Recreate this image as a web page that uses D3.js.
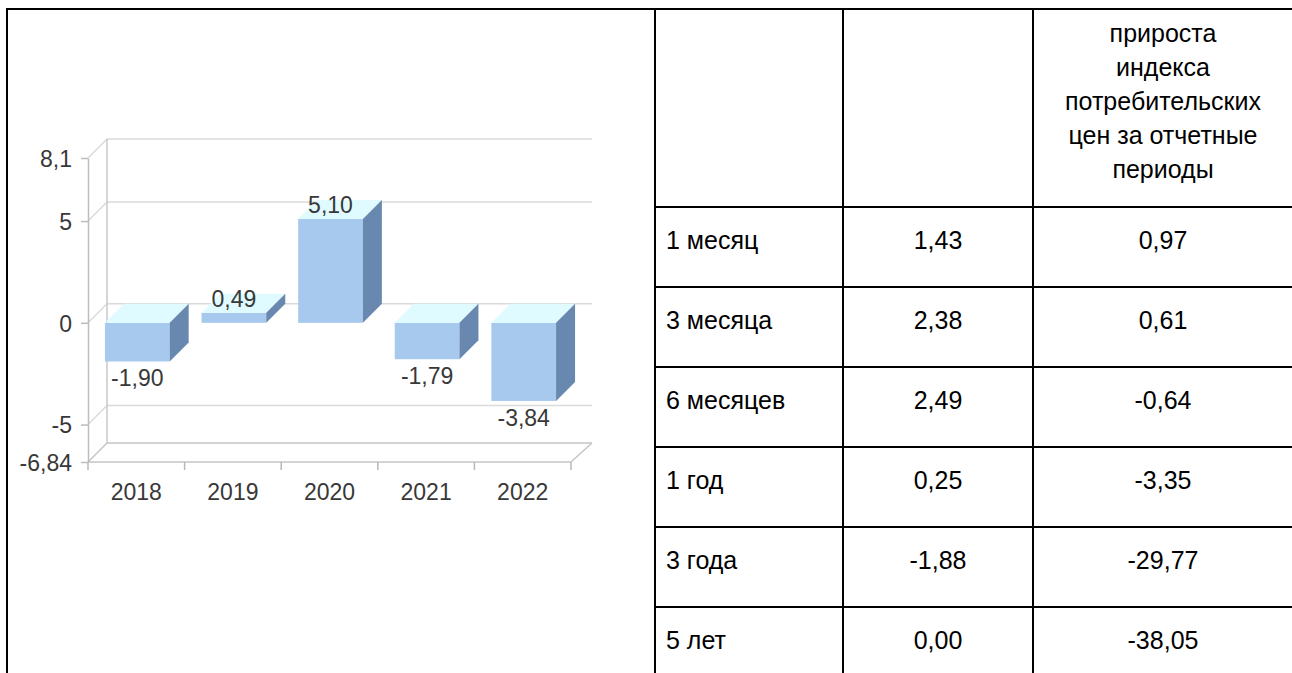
<!DOCTYPE html>
<html>
<head>
<meta charset="utf-8">
<script src="https://cdn.jsdelivr.net/npm/d3@7"></script>
<style>
  body { margin: 0; background: #fff; }
  svg { display: block; font-family: "Liberation Sans", Arial, sans-serif; }
</style>
</head>
<body>
<div id="chart"></div>
<script>
// chart data
const years = ["2018", "2019", "2020", "2021", "2022"];
const values = [-1.90, 0.49, 5.10, -1.79, -3.84];
const yTicks = [-6.84, -5, 0, 5, 8.1];

// table data
const headerLines = ["прироста", "индекса", "потребительских", "цен за отчетные", "периоды"];
const periods = ["1 месяц", "3 месяца", "6 месяцев", "1 год", "3 года", "5 лет"];
const col2 = [1.43, 2.38, 2.49, 0.25, -1.88, 0.00];
const col3 = [0.97, 0.61, -0.64, -3.35, -29.77, -38.05];

const W = 1292, H = 673;
const depth = 19;

const ru = d3.formatLocale({decimal: ",", thousands: " ", grouping: [3], currency: ["", ""], minus: "-"});
const f2 = ru.format(".2f");
const tickFmt = d => String(d).replace(".", ",");

const svg = d3.select("#chart")
  .append("svg")
  .attr("width", W)
  .attr("height", H);

// ---- 3D bar chart ----
const x = d3.scaleBand()
  .domain(years)
  .range([88, 571]);

const y = d3.scaleLinear()
  .domain([-6.84, 8.1])
  .range([462, 158]);

const chart = svg.append("g");

// back wall gridlines
chart.selectAll(".grid")
  .data(yTicks)
  .join("line")
  .attr("x1", x.range()[0] + depth)
  .attr("x2", x.range()[1] + depth + 2)
  .attr("y1", d => y(d) - depth)
  .attr("y2", d => y(d) - depth)
  .attr("stroke", d => d === yTicks[0] ? "#c4c4c4" : "#dadada")
  .attr("stroke-width", 1.5);

// side wall diagonals
chart.selectAll(".diag")
  .data(yTicks)
  .join("line")
  .attr("x1", x.range()[0])
  .attr("x2", x.range()[0] + depth)
  .attr("y1", d => y(d))
  .attr("y2", d => y(d) - depth)
  .attr("stroke", d => d === yTicks[0] ? "#c4c4c4" : "#dadada")
  .attr("stroke-width", 1.5);

// back wall left edge
chart.append("line")
  .attr("x1", x.range()[0] + depth).attr("x2", x.range()[0] + depth)
  .attr("y1", y(8.1) - depth).attr("y2", y(-6.84) - depth)
  .attr("stroke", "#c8c8c8").attr("stroke-width", 1.5);

// floor front edge + right diagonal
chart.append("line")
  .attr("x1", x.range()[0]).attr("x2", x.range()[1])
  .attr("y1", y(-6.84)).attr("y2", y(-6.84))
  .attr("stroke", "#c4c4c4").attr("stroke-width", 1.5);
chart.append("line")
  .attr("x1", x.range()[1]).attr("x2", x.range()[1] + depth + 2)
  .attr("y1", y(-6.84)).attr("y2", y(-6.84) - depth)
  .attr("stroke", "#c4c4c4").attr("stroke-width", 1.5);

// category boundary ticks
const bounds = years.map(d => x(d)).concat([x.range()[1]]);
chart.selectAll(".xtick")
  .data(bounds)
  .join("line")
  .attr("x1", d => d).attr("x2", d => d)
  .attr("y1", y(-6.84)).attr("y2", y(-6.84) + 8)
  .attr("stroke", "#b8b8b8").attr("stroke-width", 1.5);

// bars
const barW = x.bandwidth() * 0.67;
const bars = chart.selectAll(".bar")
  .data(years.map((yr, i) => ({year: yr, value: values[i]})))
  .join("g");

const bx = d => x(d.year) + (x.bandwidth() - barW) / 2 + 1;
const barTop = d => y(Math.max(0, d.value));
const barBot = d => y(Math.min(0, d.value));

bars.append("rect")
  .attr("x", bx)
  .attr("y", barTop)
  .attr("width", barW)
  .attr("height", d => barBot(d) - barTop(d))
  .attr("fill", "#a7c9ee");

bars.append("path")
  .attr("fill", "#dffbff")
  .attr("d", d => {
    const x0 = bx(d), t = barTop(d);
    return `M${x0},${t}L${x0 + depth},${t - depth}L${x0 + barW + depth},${t - depth}L${x0 + barW},${t}Z`;
  });

bars.append("path")
  .attr("fill", "#6888b0")
  .attr("d", d => {
    const x1 = bx(d) + barW, t = barTop(d), b = barBot(d);
    return `M${x1},${t}L${x1 + depth},${t - depth}L${x1 + depth},${b - depth}L${x1},${b}Z`;
  });

// value labels
bars.append("text")
  .attr("x", d => bx(d) + barW / 2)
  .attr("y", d => d.value >= 0 ? barTop(d) - 6 : barBot(d) + 25)
  .attr("text-anchor", "middle")
  .style("font-size", "23px")
  .attr("fill", "#383838")
  .text(d => f2(d.value));

// Y axis
const yAxis = chart.append("g")
  .attr("transform", `translate(${x.range()[0]},0)`)
  .call(d3.axisLeft(y).tickValues(yTicks).tickFormat(tickFmt).tickSize(7).tickSizeOuter(0).tickPadding(9));
yAxis.select(".domain").attr("stroke", "#bdbdbd").attr("stroke-width", 1.5);
yAxis.selectAll(".tick line").attr("stroke", "#bdbdbd").attr("stroke-width", 1.5);
yAxis.selectAll(".tick text")
  .attr("dy", "0.36em")
  .style("font-size", "23px")
  .attr("fill", "#383838");

// X axis labels
const xAxis = chart.append("g")
  .attr("transform", `translate(0,${y(-6.84)})`)
  .call(d3.axisBottom(x).tickSize(0).tickPadding(22));
xAxis.select(".domain").remove();
xAxis.selectAll(".tick text")
  .style("font-size", "23px")
  .attr("fill", "#383838");

// ---- table ----
const colX = [7, 655, 843, 1033, 1293];
const rowY = d3.scaleLinear().domain([0, periods.length]).range([207, 207 + 80 * periods.length]);
const table = svg.append("g");

// header text
table.selectAll(".head")
  .data(headerLines)
  .join("text")
  .attr("x", (colX[3] + colX[4]) / 2)
  .attr("y", (d, i) => 42 + i * 34)
  .attr("text-anchor", "middle")
  .style("font-size", "25px")
  .attr("fill", "#000")
  .text(d => d);

const rows = table.selectAll(".row")
  .data(periods.map((p, i) => ({p, a: col2[i], b: col3[i], i})))
  .join("g");

rows.append("text")
  .attr("x", colX[1] + 11)
  .attr("y", d => rowY(d.i) + 42)
  .style("font-size", "25px")
  .text(d => d.p);
rows.append("text")
  .attr("x", (colX[2] + colX[3]) / 2)
  .attr("y", d => rowY(d.i) + 42)
  .attr("text-anchor", "middle")
  .style("font-size", "25px")
  .text(d => f2(d.a));
rows.append("text")
  .attr("x", (colX[3] + colX[4]) / 2)
  .attr("y", d => rowY(d.i) + 42)
  .attr("text-anchor", "middle")
  .style("font-size", "25px")
  .text(d => f2(d.b));

// borders
table.append("line")
  .attr("x1", colX[0] - 1).attr("x2", W).attr("y1", 9).attr("y2", 9)
  .attr("stroke", "#000").attr("stroke-width", 2);
table.selectAll(".vline")
  .data(colX)
  .join("line")
  .attr("x1", d => d).attr("x2", d => d)
  .attr("y1", 8).attr("y2", H)
  .attr("stroke", "#000").attr("stroke-width", 2);
table.selectAll(".hline")
  .data(d3.range(periods.length))
  .join("line")
  .attr("x1", colX[1]).attr("x2", W)
  .attr("y1", d => rowY(d)).attr("y2", d => rowY(d))
  .attr("stroke", "#000").attr("stroke-width", 2);
</script>
</body>
</html>
